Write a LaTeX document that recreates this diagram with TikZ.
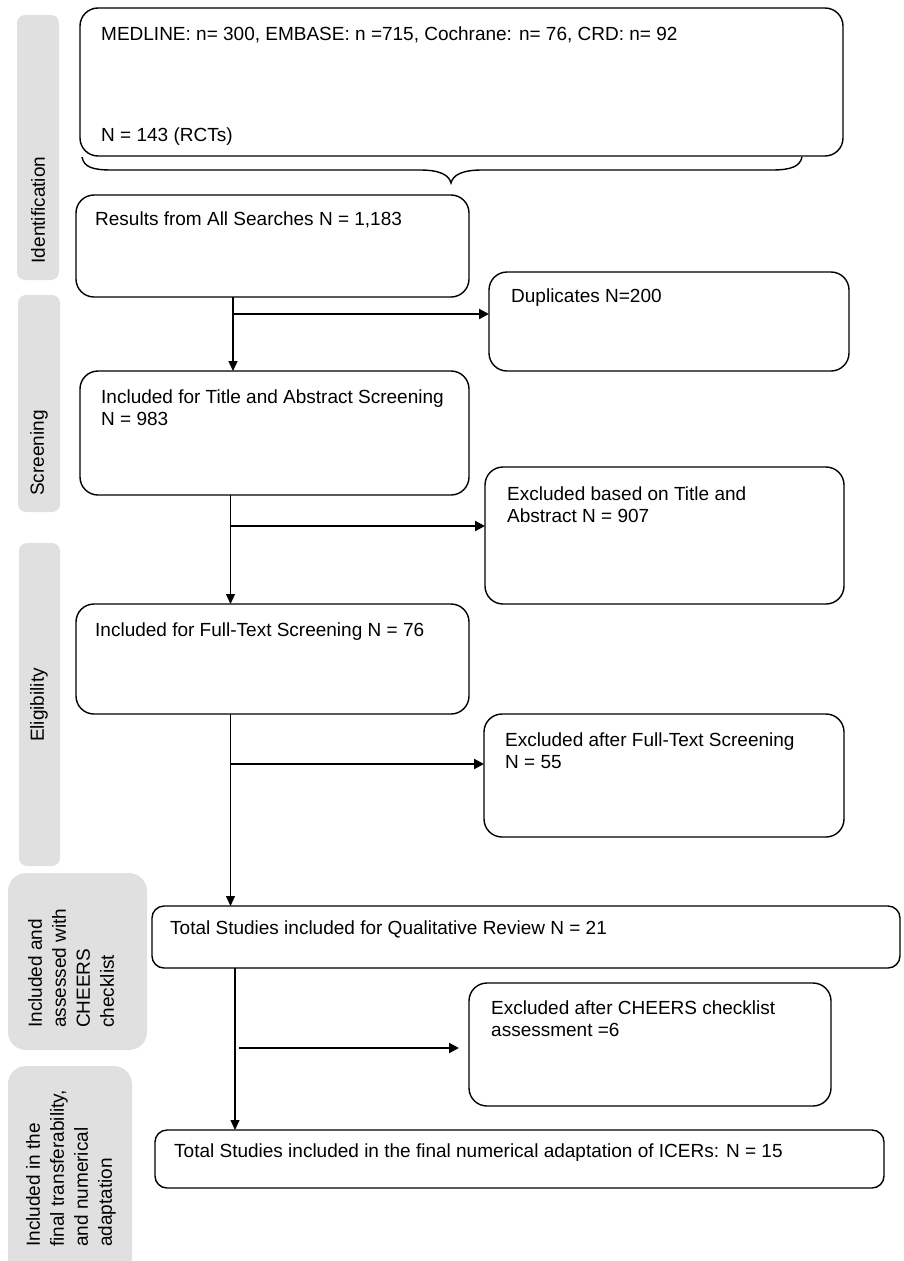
\documentclass[tikz,border=0pt]{standalone}
\usepackage{fontspec}
\setmainfont{Liberation Sans}
\usetikzlibrary{arrows.meta}
\definecolor{phasegray}{RGB}{224,224,224}

\begin{document}
\begin{tikzpicture}[x=1pt,y=-1pt,
  box/.style={draw,line width=1.4pt,rounded corners=18pt,anchor=north west,inner sep=0pt,outer sep=0pt},
  txt/.style={anchor=north west,inner sep=0pt,align=left,font=\fontsize{19}{22}\selectfont},
  lbl/.style={rotate=90,inner sep=0pt,align=left,font=\fontsize{19}{24}\selectfont},
  flow/.style={line width=1.3pt,-{Triangle[length=10pt,width=9pt]}},
  excl/.style={line width=2.2pt,-{Triangle[length=10pt,width=10pt]}}]
  \useasboundingbox (0,0) rectangle (903,1261);

  % phase bars on the left
  \fill[phasegray,rounded corners=8pt] (17,15) rectangle (59,280);
  \node[lbl] (idl) at (38,210) {Identification};
  \fill[phasegray,rounded corners=8pt] (18,295) rectangle (60,512);
  \node[lbl] (scl) at (39,453) {Screening};
  \fill[phasegray,rounded corners=8pt] (19,543) rectangle (60,866);
  \node[lbl] (ell) at (39,705) {Eligibility};
  \fill[phasegray,rounded corners=18pt] (8,873) rectangle (147,1050);
  \node[lbl,anchor=west] (asl) at (71,1028) {Included and\\assessed with\\CHEERS\\checklist};
  \fill[phasegray,rounded corners=18pt] (8,1066) rectangle (132,1290);
  \node[lbl,anchor=west] (fnl) at (71,1247) {Included in the\\final transferability,\\and numerical\\adaptation};

  % boxes
  \node[box,minimum width=763pt,minimum height=148pt] (src) at (80,8) {};
  \node[txt] (srct) at (101,27) {MEDLINE: n= 300, EMBASE: n =715, Cochrane: n= 76, CRD: n= 92};
  \node[txt] (srcn) at (101,128) {N = 143 (RCTs)};

  \draw[line width=1.4pt] (82,157) .. controls (84,167) and (92,170) .. (112,170)
    -- (420,170) .. controls (440,170) and (449,175) .. (451,183)
    .. controls (453,175) and (462,170) .. (482,170)
    -- (772,170) .. controls (792,170) and (800,166) .. (802,157);

  \node[box,minimum width=393pt,minimum height=102pt] (all) at (76,195) {};
  \node[txt] (allt) at (95,212) {Results from All Searches N = 1,183};

  \node[box,minimum width=360pt,minimum height=99pt] (dup) at (489,272) {};
  \node[txt] (dupt) at (511,289) {Duplicates N=200};

  \node[box,minimum width=389pt,minimum height=124pt] (tia) at (80,371) {};
  \node[txt] (tiat) at (101,390) {Included for Title and Abstract Screening\\N = 983};

  \node[box,minimum width=359pt,minimum height=137pt] (extia) at (485,467) {};
  \node[txt] (extiat) at (507,487) {Excluded based on Title and\\Abstract N = 907};

  \node[box,minimum width=393pt,minimum height=110pt] (ft) at (76,604) {};
  \node[txt] (ftt) at (95,623) {Included for Full-Text Screening N = 76};

  \node[box,minimum width=360pt,minimum height=123pt] (exft) at (484,714) {};
  \node[txt] (exftt) at (505,733) {Excluded after Full-Text Screening\\N = 55};

  \node[box,rounded corners=12pt,minimum width=748pt,minimum height=62pt] (qual) at (152,906) {};
  \node[txt] (qualt) at (170,921) {Total Studies included for Qualitative Review N = 21};

  \node[box,minimum width=362pt,minimum height=123pt] (exch) at (469,983) {};
  \node[txt] (excht) at (491,1001) {Excluded after CHEERS checklist\\assessment =6};

  \node[box,rounded corners=12pt,minimum width=729pt,minimum height=58pt] (fin) at (155,1130) {};
  \node[txt] (fint) at (174,1144) {Total Studies included in the final numerical adaptation of ICERs: N = 15};

  % connectors
  \coordinate (j1) at (233,314);
  \coordinate (j2) at (230.5,526);
  \coordinate (j3) at (230.5,764);
  \coordinate (j4) at (235,1048);

  \draw[flow] (all.south -| j1) -- (tia.north -| j1);
  \draw[excl] (j1) -- (dup.west |- j1);
  \draw[flow] (tia.south -| j2) -- (ft.north -| j2);
  \draw[excl] (j2) -- (extia.west |- j2);
  \draw[flow] (ft.south -| j3) -- (qual.north -| j3);
  \draw[excl] (j3) -- (exft.west |- j3);
  \draw[flow] (qual.south -| j4) -- (fin.north -| j4);
  \draw[excl,shorten <=4pt,shorten >=10pt] (j4) -- (exch.west |- j4);
\end{tikzpicture}
\end{document}
